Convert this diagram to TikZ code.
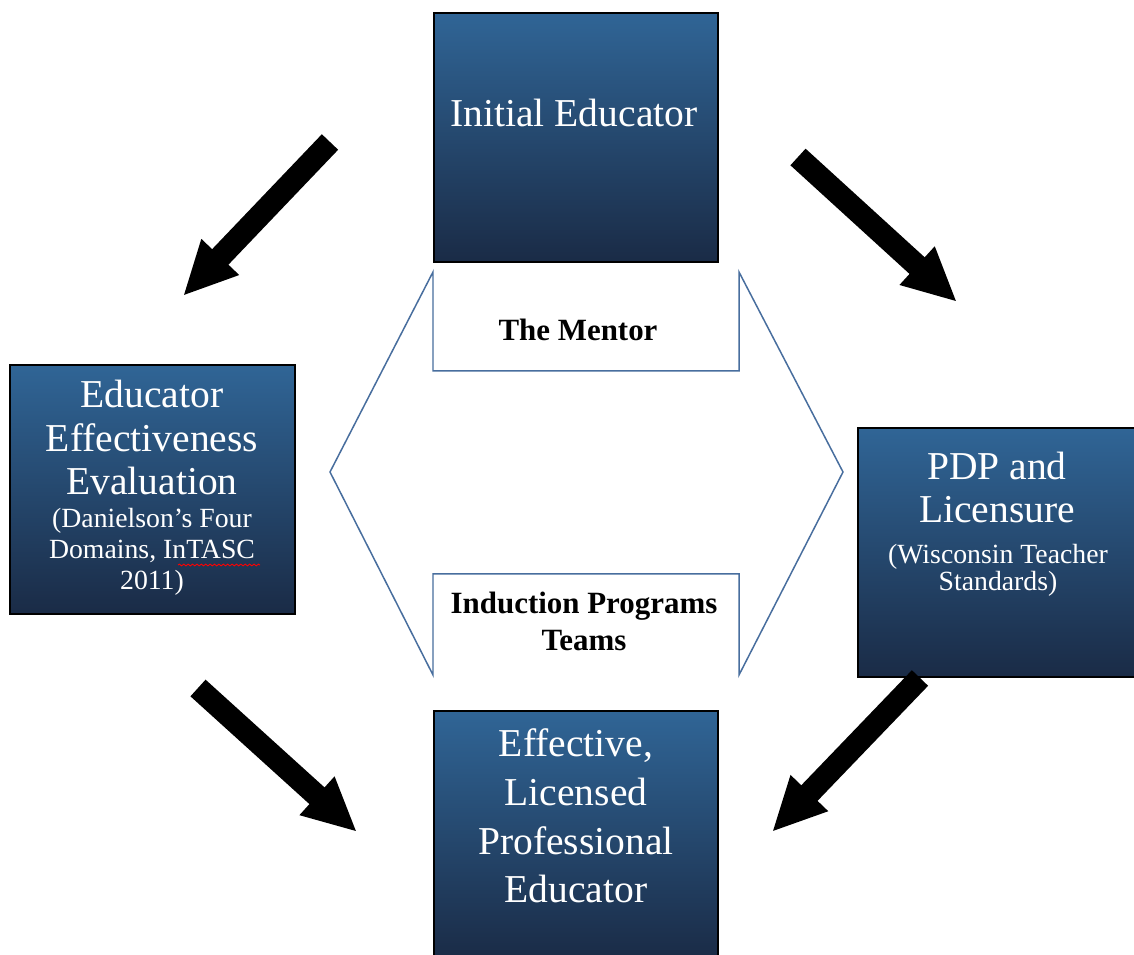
\documentclass[tikz,border=0pt]{standalone}
\usepackage{fontspec}
\setmainfont{Liberation Serif}
\usetikzlibrary{arrows.meta,decorations.pathmorphing}
\definecolor{boxtop}{RGB}{48,101,150}
\definecolor{boxbot}{RGB}{26,43,70}
\definecolor{hexline}{RGB}{72,110,158}
\tikzset{
  stagebox/.style={draw=black, line width=0.7pt, top color=boxtop, bottom color=boxbot,
    rectangle, inner sep=0pt, minimum height=4.98cm},
  mainlabel/.style={text=white, align=center, anchor=base, inner sep=0pt,
    font=\fontsize{22.5}{24.9}\selectfont},
  sublabel/.style={text=white, align=center, anchor=base, inner sep=0pt,
    font=\fontsize{15.8}{17.9}\selectfont},
  teamlabel/.style={text=black, align=center, anchor=base, inner sep=0pt,
    font=\fontsize{17.6}{21.5}\selectfont\bfseries},
  flowarrow/.style={line width=0.45cm, black,
    -{Triangle[width=0.96cm,length=1.08cm]}},
  hexframe/.style={draw=hexline, line width=0.85pt, line join=miter}
}
\begin{document}
\begin{tikzpicture}[x=0.02cm,y=-0.02cm]
\clip (0,0) rectangle (1134,955);
\fill[white] (0,0) rectangle (1134,955);

% central frame around the two support labels
\draw[hexframe] (433,272) -- (433,371) -- (739,371) -- (739,272) -- (843,472)
  -- (739,675) -- (739,574) -- (433,574) -- (433,675) -- (330,472) -- cycle;
\node[teamlabel] (mentor) at (578,341) {The Mentor};
\node[teamlabel] (induction) at (584,651) {Induction Programs\\Teams};

% stage boxes
\node[stagebox, minimum width=5.68cm] (initial)    at (576,137.5) {};
\node[stagebox, minimum width=5.70cm] (evaluation) at (152.5,489.5) {};
\node[stagebox, minimum width=5.56cm] (licensure)  at (997,552.5) {};
\node[stagebox, minimum width=5.68cm] (effective)  at (576,835.5) {};

% box texts (anchored at the baseline of their last line)
\node[mainlabel] (initialtext) at (574,127) {Initial Educator};
\node[mainlabel] (evaltext) at (152,495) {Educator\\Effectiveness\\Evaluation};
\node[sublabel] (evalsub) at (152,590) {(Danielson’s Four\\Domains, InTASC\\2011)};
\draw[red, line width=0.5pt, decorate, decoration={snake, amplitude=0.5pt, segment length=2.5pt}]
  (178,565) -- (260,565);
\node[mainlabel] (lictext) at (997,523) {PDP and\\Licensure};
\node[sublabel, font=\fontsize{15.8}{15.9}\selectfont] (licsub) at (998,591)
  {(Wisconsin Teacher\\Standards)};
\node[mainlabel, font=\fontsize{22.5}{27.8}\selectfont] (efftext) at (576,903)
  {Effective,\\Licensed\\Professional\\Educator};

% flow arrows
\coordinate (a1s) at (330,142); \coordinate (a1e) at (183,296);
\coordinate (a2s) at (798,157); \coordinate (a2e) at (957,302);
\coordinate (a3s) at (198,688); \coordinate (a3e) at (357,832);
\coordinate (a4s) at (920,678); \coordinate (a4e) at (772,832);
\draw[flowarrow] (a1s) -- (a1e);
\draw[flowarrow] (a2s) -- (a2e);
\draw[flowarrow] (a3s) -- (a3e);
\draw[flowarrow] (a4s) -- (a4e);
\end{tikzpicture}
\end{document}
